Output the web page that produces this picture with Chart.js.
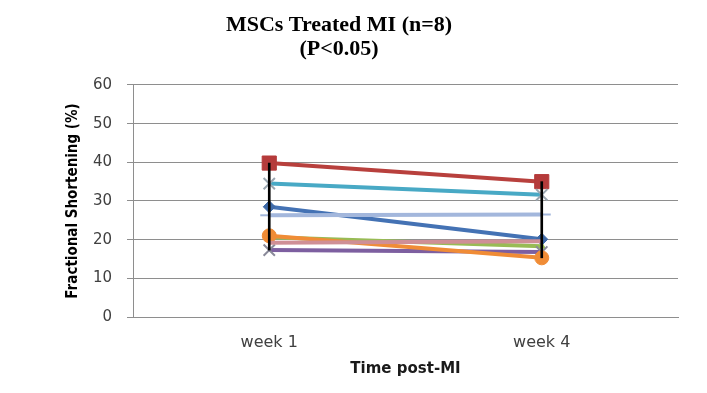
<!DOCTYPE html>
<html>
<head>
<meta charset="utf-8">
<script src="https://cdn.jsdelivr.net/npm/chart.js@4/dist/chart.umd.min.js"></script>
<style>
html,body{margin:0;padding:0;background:#fff;}
canvas{display:block;}
</style>
</head>
<body>
<canvas id="c" width="707" height="393"></canvas>
<script>
// ---- data ----
const categories = ['week 1', 'week 4'];
const seriesNames = ['S1', 'S2', 'S3', 'S4', 'S5', 'S6', 'S7', 'S8'];
const s1 = [28.5, 20.1];   // dark blue, diamond
const s2 = [39.8, 35.0];   // red, square
const s3 = [20.6, 18.3];   // green
const s4 = [17.3, 16.8];   // purple, x
const s5 = [34.5, 31.6];   // teal, x
const s6 = [21.0, 15.3];   // orange, circle
const s7 = [26.3, 26.5];   // light blue, dash
const s8 = [19.2, 19.6];   // pink
const yTicks = [0, 10, 20, 30, 40, 50, 60];
const titleLines = ['MSCs Treated MI (n=8)', '(P<0.05)'];
const yTitle = 'Fractional Shortening (%)';
const xTitle = 'Time post-MI';

const allSeries = [s1, s2, s3, s4, s5, s6, s7, s8];
const hiLo = categories.map((c, i) => {
  const vals = allSeries.map(s => s[i]);
  return [Math.min(...vals), Math.max(...vals)];
});

const styles = [
  {c: '#4472b4', ps: 'rectRot', r: 6, pc: '#3f6aa8'},
  {c: '#b8403d', ps: 'rect', r: 10, pc: '#b53b3b'},
  {c: '#98bb55', ps: 'triangle', r: 4, pc: '#98bb55'},
  {c: '#7d5fa0', ps: 'crossRot', r: 8, pc: '#8a8a9a'},
  {c: '#48a9c5', ps: 'crossRot', r: 8, pc: '#9aa6b0'},
  {c: '#f08c36', ps: 'circle', r: 7, pc: '#f08c36'},
  {c: '#a3b7dc', ps: 'line', r: 9, pc: '#a3b7dc'},
  {c: '#cf8f96', ps: 'circle', r: 0, pc: '#cf8f96'}
];

const datasets = allSeries.map((s, i) => ({
  type: 'line',
  label: seriesNames[i],
  data: s,
  borderColor: styles[i].c,
  borderWidth: 4,
  pointStyle: styles[i].ps,
  pointRadius: styles[i].r,
  pointBackgroundColor: styles[i].pc,
  pointBorderColor: styles[i].pc,
  pointBorderWidth: styles[i].ps.startsWith('cross') || styles[i].ps === 'line' ? 2 : 1,
  fill: false,
  tension: 0,
  order: 10 - i
}));
datasets.push({
  type: 'bar',
  label: 'high-low',
  data: hiLo,
  backgroundColor: '#000',
  borderWidth: 0,
  barThickness: 2,
  order: 0
});

new Chart(document.getElementById('c'), {
  type: 'line',
  data: { labels: categories, datasets: datasets },
  options: {
    responsive: false,
    animation: false,
    layout: { padding: { left: 0, right: 29, top: 0, bottom: 0 } },
    plugins: {
      legend: { display: false },
      tooltip: { enabled: false },
      title: {
        display: true,
        text: titleLines,
        color: '#000',
        font: { family: 'Liberation Serif', size: 22, weight: 'bold', lineHeight: 1.09 },
        padding: { top: 13, bottom: 24 }
      }
    },
    scales: {
      x: {
        type: 'category',
        offset: true,
        grid: { display: false, drawTicks: false },
        border: { display: true, color: '#8e8e8e', width: 1 },
        ticks: { color: '#404040', font: { family: 'DejaVu Sans', size: 16 }, padding: 16, maxRotation: 0 },
        title: {
          display: true, text: xTitle, color: '#1a1a1a',
          font: { family: 'DejaVu Sans', size: 15, weight: 'bold', lineHeight: 1.2 },
          padding: { top: 0, bottom: 15 }
        },
        afterFit: s => { s.height = 76; }
      },
      y: {
        min: 0, max: 60,
        afterBuildTicks: s => { s.ticks = yTicks.map(v => ({ value: v })); },
        grid: { color: '#8e8e8e', lineWidth: 1, tickLength: 6, drawTicks: true },
        border: { display: true, color: '#8e8e8e', width: 1 },
        ticks: { color: '#404040', font: { family: 'DejaVu Sans', size: 15 }, padding: 15 },
        title: {
          display: true, text: yTitle, color: '#000',
          font: { family: 'DejaVu Sans Condensed', size: 15, weight: 'bold', lineHeight: 1.2 },
          padding: { top: 64, bottom: 0 }
        },
        afterFit: s => { s.width = 133; }
      }
    }
  }
});
</script>
</body>
</html>
